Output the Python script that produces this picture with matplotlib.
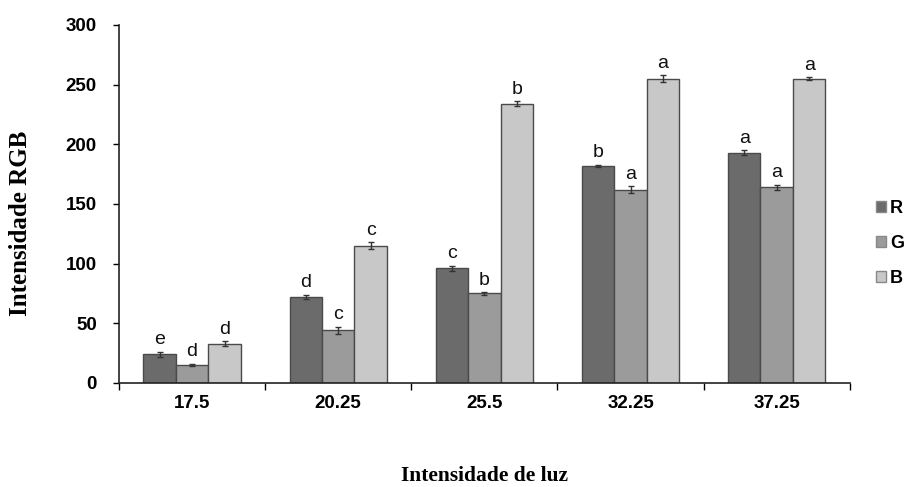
import matplotlib
matplotlib.use("Agg")
import matplotlib.pyplot as plt
import numpy as np

categories = ["17.5", "20.25", "25.5", "32.25", "37.25"]
series_names = ["R", "G", "B"]
r_vals = [24, 72, 96, 182, 193]
g_vals = [15, 44, 75, 162, 164]
b_vals = [33, 115, 234, 255, 255]
r_err = [2, 2, 2, 1, 2]
g_err = [1, 3, 1, 3, 2]
b_err = [2, 3, 2, 3, 1]
r_letters = ["e", "d", "c", "b", "a"]
g_letters = ["d", "c", "b", "a", "a"]
b_letters = ["d", "c", "b", "a", "a"]

colors = ["#6b6b6b", "#9b9b9b", "#c8c8c8"]
edge = "#4a4a4a"

fig = plt.figure(figsize=(9.1, 4.87), dpi=100)
ax = fig.add_axes([0.1308, 0.2136, 0.803, 0.7351])

x = np.arange(len(categories))
w = 0.222
vals = [r_vals, g_vals, b_vals]
errs = [r_err, g_err, b_err]
lets = [r_letters, g_letters, b_letters]
handles = []
for i in range(3):
    pos = x + (i - 1) * w
    h = ax.bar(pos, vals[i], w, color=colors[i], edgecolor=edge, linewidth=1.0,
               yerr=errs[i], error_kw=dict(ecolor="#333333", elinewidth=1, capsize=2.5, capthick=1),
               label=series_names[i], zorder=2)
    handles.append(h)
    for p, v, e, t in zip(pos, vals[i], errs[i], lets[i]):
        ax.text(p, v + e + 3, t, ha="center", va="bottom", fontsize=14,
                family="Liberation Sans", color="#111111")

ax.set_xlim(-0.5, len(categories) - 0.5)
ax.set_ylim(0, 300)
ax.set_yticks(range(0, 301, 50))
ax.set_xticks(x)
ax.set_xticklabels(categories)
ax.set_xticks(np.arange(-0.5, len(categories) + 0.5, 1), minor=True)
ax.tick_params(axis="x", which="major", length=0, pad=9)
ax.tick_params(axis="x", which="minor", length=5, width=1, direction="out")
ax.tick_params(axis="y", length=4, width=1, direction="out", pad=12)
for lab in ax.get_xticklabels() + ax.get_yticklabels():
    lab.set_fontfamily("Liberation Sans")
    lab.set_fontweight("bold")
    lab.set_fontsize(13.5)
for s in ["top", "right"]:
    ax.spines[s].set_visible(False)
for s in ["left", "bottom"]:
    ax.spines[s].set_color("#222222")
    ax.spines[s].set_linewidth(1.2)

ax.set_ylabel("Intensidade RGB", fontsize=18, fontweight="bold", family="Liberation Serif")
ax.yaxis.set_label_coords(-0.119, 0.447)
fig.text(0.532, 0.012, "Intensidade de luz", ha="center", va="baseline", fontsize=15.5,
         fontweight="bold", family="Liberation Serif")

leg = fig.legend(handles=handles, labels=series_names, loc="upper left",
                 bbox_to_anchor=(0.955, 0.605), frameon=False,
                 prop=dict(family="Liberation Sans", weight="bold", size=13),
                 handlelength=0.55, handleheight=0.55, handletextpad=0.2, labelspacing=1.0,
                 borderaxespad=0)
for hdl in leg.legend_handles:
    hdl.set_edgecolor("#888888")

fig.savefig("out.png", dpi=100)
